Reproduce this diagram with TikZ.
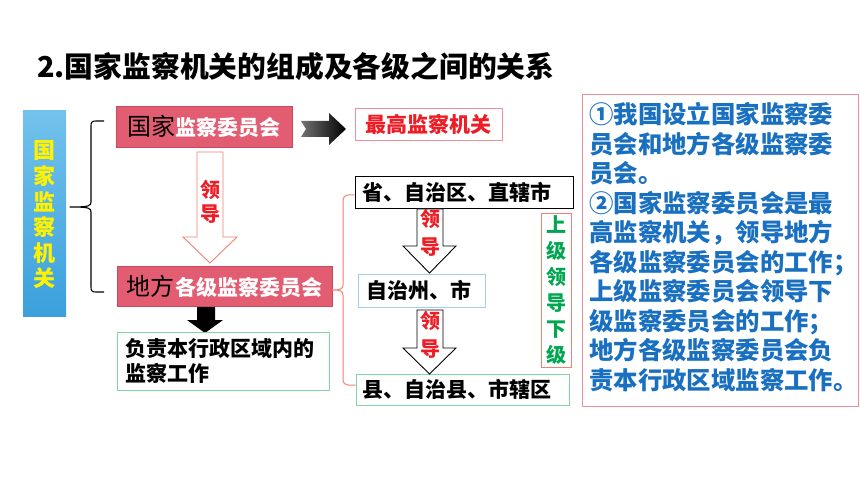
\documentclass[tikz,border=0pt]{standalone}
\usepackage{fontspec}
\newfontfamily\cjk{Noto Sans CJK SC}
\newcommand\FS[2]{\fontsize{#1}{#2}\selectfont}
\newcommand\HalfP[1]{\makebox[0.6em][l]{#1}}
\definecolor{pinkfill}{HTML}{E35D72}
\definecolor{pinkedge}{HTML}{C84A5F}
\definecolor{salmon}{HTML}{F2826E}
\definecolor{redtxt}{HTML}{EE1C25}
\definecolor{greentxt}{HTML}{00A650}
\definecolor{bluetxt}{HTML}{1A70C0}
\definecolor{lightgreen}{HTML}{80D6A8}
\definecolor{lightblue}{HTML}{9ECFEF}
\definecolor{pinkedgeb}{HTML}{E8909C}
\definecolor{bluetop}{HTML}{72C2EC}
\definecolor{bluebot}{HTML}{3BA0DC}
\begin{document}
\begin{tikzpicture}[x=1pt,y=-1pt,font=\cjk,
  pinkbox/.style={draw=pinkedge,fill=pinkfill,line width=0.8pt,inner sep=0pt,align=center},
  whitebox/.style={fill=white,line width=0.9pt,inner ysep=0pt,align=left,font=\cjk\bfseries\FS{21}{25}},
  hollowarrow/.style={fill=white,line width=0.9pt,line join=miter},
  leadtxt/.style={text=redtxt,font=\cjk\bfseries\FS{20}{20},inner sep=0pt},
  bracestyle/.style={line width=1.1pt,line join=round}]
\useasboundingbox[fill=white] (0,0) rectangle (860,484);

% title
\node[anchor=west,inner sep=0pt,font=\cjk\bfseries\FS{28.8}{28.8}] (title) at (37,67) {2.国家监察机关的组成及各级之间的关系};

% left blue box
\node[shade,top color=bluetop,bottom color=bluebot,minimum width=43pt,minimum height=205pt,inner sep=0pt] (lb) at (44.5,213.5) {};
\node[text=yellow,font=\cjk\bfseries\FS{22}{25.6},align=center,inner sep=0pt] (lbt) at (44.5,215) {国\\家\\监\\察\\机\\关};

% pink boxes
\node[pinkbox,minimum width=176pt,minimum height=41pt] (gj) at (204,126.5)
  {{\FS{24}{24}国家}{\color{white}\bfseries\FS{21}{21}监察委员会}};
\node[pinkbox,minimum width=215pt,minimum height=40pt] (df) at (224.5,286)
  {{\FS{24}{24}地方}\,{\color{white}\bfseries\FS{21}{21}各级监察委员会}};

% highest organ
\node[draw=pinkedgeb,fill=white,line width=0.9pt,minimum width=147pt,minimum height=32pt,inner sep=0pt,text=redtxt,font=\cjk\bfseries\FS{21}{21}] (zg) at (428.5,124) {最高监察机关};

% black arrow to highest organ
\shade[left color=black!55,right color=black] (301,121) -- (329,121) -- (329,113) -- (346,129) -- (329,145) -- (329,137) -- (301,137) -- (306,129) -- cycle;

% brace
\coordinate (bt) at (104,121);
\coordinate (bb) at (104,292);
\draw[bracestyle] (bt) -- (96,121) .. controls (92,121) and (91,122) .. (91,126) -- (91,202) .. controls (91,206) and (89,207) .. (70,207)
  .. controls (89,207) and (91,208) .. (91,212) -- (91,287) .. controls (91,291) and (92,292) .. (96,292) -- (bb);

% hollow arrow 1 (salmon)
\draw[hollowarrow,draw=salmon] (197,152) -- (223,152) -- (223,237) -- (237,237) -- (210,263) -- (183,237) -- (197,237) -- cycle;
\node[leadtxt] (l1a) at (210,190) {领};
\node[leadtxt] (l1b) at (210,214) {导};

% black down arrow
\fill[black] (197,307) -- (215,307) -- (215,320) -- (223,320) -- (205,333) -- (187,320) -- (197,320) -- cycle;

% responsibility box
\node[whitebox,draw=lightgreen,text width=196pt,inner xsep=8pt,minimum height=58pt] (fz) at (223,361)
  {负责本行政区域内的\\监察工作};

% right-hand hierarchy
\node[whitebox,draw=black,text width=204pt,inner xsep=7pt,minimum height=32pt] (sh) at (464,192) {省、自治区、直辖市};
\node[whitebox,draw=lightblue,text width=111pt,inner xsep=8pt,minimum height=33pt] (zz) at (421.5,290.5) {自治州、市};
\node[whitebox,draw=lightgreen,text width=201pt,inner xsep=6pt,minimum height=31pt] (xn) at (462.5,389.5) {县、自治县、市辖区};

% salmon bracket
\draw[bracestyle,draw=salmon,line width=1pt] (sh.west|-0,195) -- (348,195) .. controls (345,195) and (343,197) .. (343,200) -- (343,285)
  .. controls (343,289) and (340,290) .. (df.east|-0,290) .. controls (340,290) and (343,291) .. (343,295) -- (343,380)
  .. controls (343,383) and (345,385) .. (348,385) -- (xn.west|-0,385);

% hollow arrows (black)
\draw[hollowarrow,draw=black] (417,209) -- (443,209) -- (443,246) -- (456,246) -- (429.5,273) -- (403,246) -- (417,246) -- cycle;
\node[leadtxt] (l2a) at (430,219) {领};
\node[leadtxt] (l2b) at (430,247) {导};
\draw[hollowarrow,draw=black] (417,310) -- (443,310) -- (443,348) -- (456,348) -- (429.5,374) -- (403,348) -- (417,348) -- cycle;
\node[leadtxt] (l3a) at (430,321) {领};
\node[leadtxt] (l3b) at (430,349) {导};

% superior leads subordinate
\node[draw=salmon,fill=white,line width=0.9pt,minimum width=30pt,minimum height=154pt,inner sep=0pt] (sj) at (556,290) {};
\node[text=greentxt,font=\cjk\bfseries\FS{20}{26},align=center,inner sep=0pt] (sjt) at (sj.center) {上\\级\\领\\导\\下\\级};

% right text box
\node[draw=pinkedgeb,line width=1pt,minimum width=276pt,minimum height=311pt,inner sep=0pt] (rt) at (720,250.5) {};
\node[anchor=north west,text=bluetxt,font=\cjk\bfseries\FS{24.4}{29.5},align=left,inner sep=0pt] (rtt) at (589,102.5)
{①我国设立国家监察委\\员会和地方各级监察委\\员会。\\②国家监察委员会是最\\高监察机关，领导地方\\各级监察委员会的工作\HalfP{；}\\上级监察委员会领导下\\级监察委员会的工作；\\地方各级监察委员会负\\责本行政区域监察工作\HalfP{。}};
\end{tikzpicture}
\end{document}
